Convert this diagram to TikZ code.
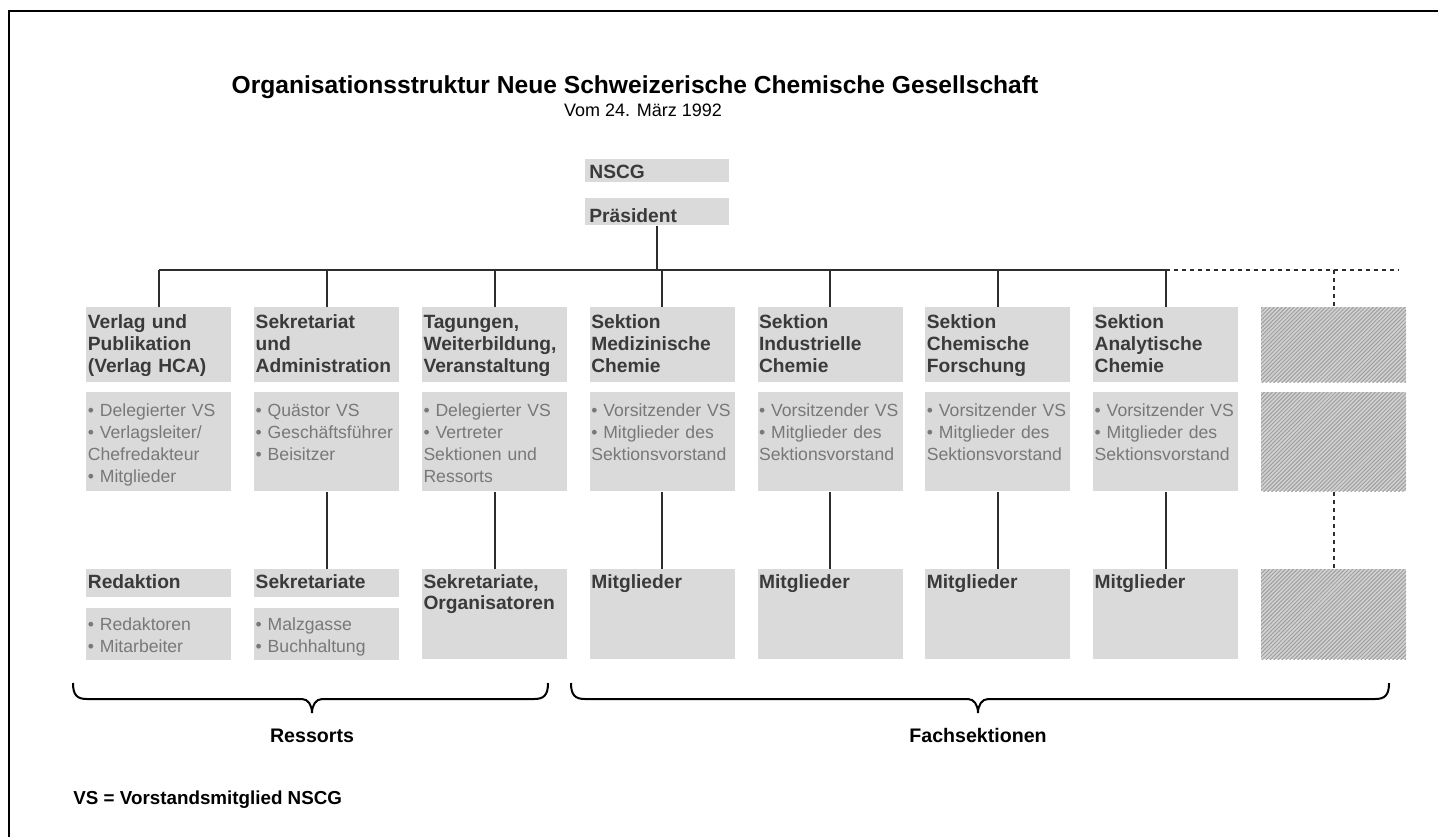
\documentclass[tikz,border=0pt]{standalone}
\usepackage{fontspec}
\setmainfont{Liberation Sans}
\usetikzlibrary{positioning, patterns.meta}
\definecolor{boxgray}{RGB}{218,218,218}
\definecolor{headgray}{RGB}{58,58,58}
\definecolor{itemgray}{RGB}{120,120,120}
\definecolor{linegray}{RGB}{45,45,45}
\tikzset{node distance=11pt, % gap between two columns
x=0.5pt, y=-0.5pt, % one unit = one pixel of the scan
every node/.style={inner sep=0pt},
box/.style={ % grey box, text at the top left
fill=boxgray, text width=71pt, inner xsep=0.75pt, inner ysep=0pt,
align=left, anchor=north west},
headbox/.style={box, text=headgray, font=\fontsize{9.6}{10.9}\selectfont\bfseries,
text height=10.5pt, text depth=27pt},
itembox/.style={box, text=itemgray, font=\fontsize{8.8}{11}\selectfont,
text height=12.3pt, text depth=37.2pt},
subhead/.style={headbox, text height=9.5pt, text depth=4.5pt},
subitem/.style={itembox, text height=11.5pt, text depth=14.5pt},
tallhead/.style={headbox, text height=9.5pt, text depth=35.5pt},
topbox/.style={headbox, text width=68pt, inner xsep=2pt},
hatchbox/.style={fill=none, preaction={fill=gray!35},
pattern={Lines[angle=45, distance=1.4pt, line width=0.5pt]}, pattern color=gray!75},
link/.style={draw=linegray, line width=1pt},
dotlink/.style={draw=linegray, line width=1pt, dash pattern=on 2pt off 2pt},
brace/.style={draw=black, line width=1pt}}
\newcommand{\klammer}[3]{% left end, right end, tip
\draw[brace] (#1,683) .. controls (#1,695) and (#1+4,699) .. (#1+14,699)
-- (#3-10,699) .. controls (#3-4,699) and (#3,705) .. (#3,713)
.. controls (#3,705) and (#3+4,699) .. (#3+10,699)
-- (#2-14,699) .. controls (#2-4,699) and (#2,695) .. (#2,683);}

\begin{document}
\begin{tikzpicture}
\useasboundingbox (0,0) rectangle (1438,837);
\draw[line width=1pt] (9,837) -- (9,11) -- (1438,11);

% title
\node[font=\fontsize{12.3}{14}\selectfont\bfseries] (titel) at (635,87)
{Organisationsstruktur Neue Schweizerische Chemische Gesellschaft};
\node[font=\fontsize{9}{10}\selectfont] (datum) at (643,110) {Vom 24. März 1992};

% top
\node[topbox, text height=9.5pt, text depth=2pt] (nscg) at (585,159) {NSCG};
\node[topbox, text height=12pt, text depth=1.5pt, below=7.5pt of nscg] (praes) {Präsident};

% first row
\node[headbox] (verlag) at (86,307) {Verlag und\\Publikation\\(Verlag HCA)};
\node[headbox, right=of verlag] (sekr) {Sekretariat\\und\\Administration};
\node[headbox, right=of sekr] (tagung) {Tagungen,\\Weiterbildung,\\Veranstaltung};
\node[headbox, right=of tagung] (med) {Sektion\\Medizinische\\Chemie};
\node[headbox, right=of med] (ind) {Sektion\\Industrielle\\Chemie};
\node[headbox, right=of ind] (forsch) {Sektion\\Chemische\\Forschung};
\node[headbox, right=of forsch] (anal) {Sektion\\Analytische\\Chemie};
\node[headbox, hatchbox, right=of anal] (leer1) {};

% second row
\node[itembox, below=4.5pt of verlag] (verlagvs)
{\textbullet\ Delegierter VS\\\textbullet\ Verlagsleiter/\\Chefredakteur\\\textbullet\ Mitglieder};
\node[itembox, below=4.5pt of sekr] (sekrvs)
{\textbullet\ Quästor VS\\\textbullet\ Geschäftsführer\\\textbullet\ Beisitzer};
\node[itembox, below=4.5pt of tagung] (tagungvs)
{\textbullet\ Delegierter VS\\\textbullet\ Vertreter\\Sektionen und\\Ressorts};
\node[itembox, below=4.5pt of med] (medvs)
{\textbullet\ Vorsitzender VS\\\textbullet\ Mitglieder des\\Sektionsvorstand};
\node[itembox, below=4.5pt of ind] (indvs)
{\textbullet\ Vorsitzender VS\\\textbullet\ Mitglieder des\\Sektionsvorstand};
\node[itembox, below=4.5pt of forsch] (forschvs)
{\textbullet\ Vorsitzender VS\\\textbullet\ Mitglieder des\\Sektionsvorstand};
\node[itembox, below=4.5pt of anal] (analvs)
{\textbullet\ Vorsitzender VS\\\textbullet\ Mitglieder des\\Sektionsvorstand};
\node[itembox, hatchbox, below=4.5pt of leer1] (leer2) {};

% third row
\node[subhead, below=38.5pt of verlagvs] (redaktion) {Redaktion};
\node[subitem, below=5pt of redaktion] (redaktoren) {\textbullet\ Redaktoren\\\textbullet\ Mitarbeiter};
\node[subhead, below=38.5pt of sekrvs] (sekretariate) {Sekretariate};
\node[subitem, below=5pt of sekretariate] (malz) {\textbullet\ Malzgasse\\\textbullet\ Buchhaltung};
\node[tallhead, below=38.5pt of tagungvs] (orga) {Sekretariate,\\Organisatoren};
\node[tallhead, below=38.5pt of medvs] (medmit) {Mitglieder};
\node[tallhead, below=38.5pt of indvs] (indmit) {Mitglieder};
\node[tallhead, below=38.5pt of forschvs] (forschmit) {Mitglieder};
\node[tallhead, below=38.5pt of analvs] (analmit) {Mitglieder};
\node[tallhead, hatchbox, below=38.5pt of leer2] (leer3) {};

% lines
\coordinate (bus) at (0,270);
\coordinate (busend) at (1399,270);
\draw[link] (praes.south) -- (praes.south |- bus);
\draw[link] (verlag.north |- bus) -- (anal.north |- bus);
\draw[link] (verlag.north) -- (verlag.north |- bus);
\draw[link] (sekr.north) -- (sekr.north |- bus);
\draw[link] (tagung.north) -- (tagung.north |- bus);
\draw[link] (med.north) -- (med.north |- bus);
\draw[link] (ind.north) -- (ind.north |- bus);
\draw[link] (forsch.north) -- (forsch.north |- bus);
\draw[link] (anal.north) -- (anal.north |- bus);
\draw[dotlink] (anal.north |- bus) -- (busend);
\draw[dotlink] (leer1.north |- bus) -- (leer1.north);

\draw[link] (sekrvs) -- (sekretariate);
\draw[link] (tagungvs) -- (orga);
\draw[link] (medvs) -- (medmit);
\draw[link] (indvs) -- (indmit);
\draw[link] (forschvs) -- (forschmit);
\draw[link] (analvs) -- (analmit);
\draw[dotlink] (leer2) -- (leer3);

% braces
\klammer{73}{548}{312}
\klammer{571}{1389}{978}
\node[font=\fontsize{9.8}{11}\selectfont\bfseries] (ressorts) at (312,736) {Ressorts};
\node[font=\fontsize{9.8}{11}\selectfont\bfseries] (fach) at (978,735) {Fachsektionen};

\node[font=\fontsize{9.4}{11}\selectfont\bfseries, anchor=west] (legende) at (73,800)
{VS = Vorstandsmitglied NSCG};
\end{tikzpicture}
\end{document}
